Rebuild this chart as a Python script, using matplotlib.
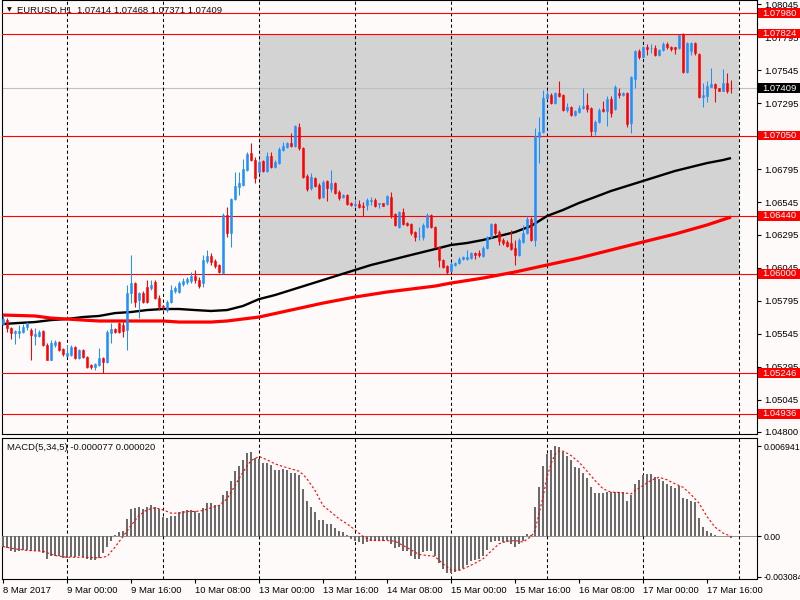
import matplotlib
matplotlib.use("Agg")
import matplotlib.pyplot as plt
from matplotlib.patches import Rectangle
import numpy as np

plt.rcParams['font.family'] = ['Liberation Sans', 'DejaVu Sans']

# ---------------- data (EURUSD H1, bar 0 = 8 Mar 2017 08:00) ----------------
opens = [1.05619, 1.05649, 1.05589, 1.05551, 1.05551, 1.05558, 1.05596, 1.05573, 1.05528, 1.05528,
         1.05566, 1.05459, 1.05346, 1.05459, 1.05482, 1.05429, 1.05376, 1.05383, 1.05444, 1.05361,
         1.05421, 1.05368, 1.05308, 1.05292, 1.05308, 1.05361, 1.05330, 1.05551, 1.05581, 1.05627,
         1.05611, 1.05573, 1.05854, 1.05930, 1.05801, 1.05854, 1.05900, 1.05892, 1.05938, 1.05816,
         1.05756, 1.05725, 1.05786, 1.05869, 1.05862, 1.05923, 1.05938, 1.05945, 1.05983, 1.05953,
         1.05930, 1.06097, 1.06135, 1.06097, 1.06067, 1.06006, 1.06447, 1.06310, 1.06568, 1.06659,
         1.06674, 1.06788, 1.06917, 1.06864, 1.06773, 1.06857, 1.06781, 1.06895, 1.06811, 1.06841,
         1.06940, 1.06963, 1.06993, 1.06970, 1.07115, 1.06955, 1.06743, 1.06652, 1.06727, 1.06674,
         1.06583, 1.06705, 1.06644, 1.06690, 1.06621, 1.06583, 1.06598, 1.06538, 1.06522, 1.06530,
         1.06515, 1.06522, 1.06556, 1.06560, 1.06530, 1.06538, 1.06530, 1.06583, 1.06454, 1.06355,
         1.06469, 1.06386, 1.06378, 1.06317, 1.06285, 1.06280, 1.06355, 1.06447, 1.06355, 1.06204,
         1.06105, 1.06059, 1.06021, 1.06067, 1.06082, 1.06112, 1.06112, 1.06120, 1.06158, 1.06158,
         1.06135, 1.06196, 1.06280, 1.06378, 1.06317, 1.06257, 1.06242, 1.06234, 1.06196, 1.06143,
         1.06242, 1.06310, 1.06416, 1.06257, 1.07039, 1.07077, 1.07335, 1.07358, 1.07297, 1.07373,
         1.07358, 1.07244, 1.07267, 1.07206, 1.07229, 1.07259, 1.07282, 1.07259, 1.07084, 1.07153,
         1.07251, 1.07236, 1.07327, 1.07251, 1.07373, 1.07358, 1.07373, 1.07145, 1.07479, 1.07692,
         1.07646, 1.07722, 1.07711, 1.07715, 1.07661, 1.07699, 1.07745, 1.07722, 1.07722, 1.07715,
         1.07821, 1.07532, 1.07692, 1.07753, 1.07669, 1.07343, 1.07350, 1.07418, 1.07441, 1.07411,
         1.07388, 1.07449, 1.07414]
highs = [1.05687, 1.05664, 1.05596, 1.05573, 1.05611, 1.05619, 1.05634, 1.05589, 1.05589, 1.05573,
         1.05573, 1.05475, 1.05497, 1.05497, 1.05490, 1.05437, 1.05459, 1.05459, 1.05452, 1.05429,
         1.05429, 1.05376, 1.05315, 1.05323, 1.05437, 1.05368, 1.05573, 1.05627, 1.05589, 1.05634,
         1.05634, 1.05915, 1.06143, 1.05938, 1.05862, 1.05869, 1.05953, 1.05953, 1.05953, 1.05839,
         1.05763, 1.05801, 1.05915, 1.05907, 1.05945, 1.05968, 1.05976, 1.06014, 1.06029, 1.05976,
         1.06143, 1.06181, 1.06158, 1.06112, 1.06074, 1.06462, 1.06507, 1.06576, 1.06773, 1.06773,
         1.06872, 1.06925, 1.06993, 1.06887, 1.06864, 1.06864, 1.06925, 1.06925, 1.06864, 1.06963,
         1.07001, 1.07001, 1.07069, 1.07130, 1.07145, 1.06963, 1.06758, 1.06765, 1.06735, 1.06690,
         1.06712, 1.06712, 1.06788, 1.06697, 1.06636, 1.06606, 1.06606, 1.06545, 1.06560, 1.06560,
         1.06545, 1.06576, 1.06583, 1.06576, 1.06538, 1.06538, 1.06598, 1.06621, 1.06462, 1.06477,
         1.06500, 1.06393, 1.06386, 1.06325, 1.06355, 1.06386, 1.06462, 1.06454, 1.06363, 1.06211,
         1.06112, 1.06067, 1.06090, 1.06090, 1.06128, 1.06135, 1.06181, 1.06166, 1.06166, 1.06181,
         1.06211, 1.06287, 1.06386, 1.06386, 1.06333, 1.06272, 1.06257, 1.06333, 1.06257, 1.06272,
         1.06371, 1.06439, 1.06431, 1.07107, 1.07191, 1.07396, 1.07396, 1.07373, 1.07381, 1.07464,
         1.07365, 1.07297, 1.07274, 1.07244, 1.07282, 1.07411, 1.07373, 1.07267, 1.07168, 1.07259,
         1.07312, 1.07350, 1.07350, 1.07433, 1.07411, 1.07381, 1.07381, 1.07502, 1.07699, 1.07707,
         1.07730, 1.07745, 1.07745, 1.07737, 1.07707, 1.07760, 1.07760, 1.07730, 1.07722, 1.07813,
         1.07828, 1.07760, 1.07760, 1.07760, 1.07677, 1.07449, 1.07464, 1.07563, 1.07449, 1.07411,
         1.07555, 1.07525, 1.07468]
lows = [1.05611, 1.05558, 1.05505, 1.05467, 1.05513, 1.05551, 1.05573, 1.05346, 1.05459, 1.05520,
        1.05452, 1.05346, 1.05346, 1.05444, 1.05414, 1.05376, 1.05368, 1.05376, 1.05353, 1.05353,
        1.05361, 1.05285, 1.05277, 1.05270, 1.05300, 1.05247, 1.05323, 1.05475, 1.05551, 1.05551,
        1.05520, 1.05421, 1.05778, 1.05748, 1.05664, 1.05778, 1.05778, 1.05877, 1.05808, 1.05725,
        1.05725, 1.05710, 1.05778, 1.05854, 1.05854, 1.05907, 1.05923, 1.05930, 1.05930, 1.05892,
        1.05900, 1.06082, 1.06067, 1.06044, 1.06006, 1.05999, 1.06280, 1.06204, 1.06560, 1.06598,
        1.06667, 1.06781, 1.06857, 1.06690, 1.06765, 1.06773, 1.06773, 1.06803, 1.06803, 1.06834,
        1.06933, 1.06955, 1.06963, 1.06963, 1.06940, 1.06727, 1.06629, 1.06636, 1.06659, 1.06568,
        1.06576, 1.06553, 1.06621, 1.06606, 1.06560, 1.06576, 1.06522, 1.06515, 1.06507, 1.06500,
        1.06439, 1.06485, 1.06522, 1.06507, 1.06500, 1.06515, 1.06522, 1.06424, 1.06363, 1.06348,
        1.06371, 1.06363, 1.06295, 1.06249, 1.06257, 1.06257, 1.06348, 1.06348, 1.06196, 1.06052,
        1.06044, 1.05999, 1.06014, 1.06059, 1.06074, 1.06105, 1.06105, 1.06112, 1.06112, 1.06128,
        1.06128, 1.06188, 1.06272, 1.06295, 1.06219, 1.06219, 1.06204, 1.06181, 1.06067, 1.06135,
        1.06234, 1.06302, 1.06249, 1.06211, 1.06841, 1.07069, 1.07327, 1.07289, 1.07289, 1.07343,
        1.07236, 1.07229, 1.07198, 1.07198, 1.07221, 1.07251, 1.07229, 1.07046, 1.07054, 1.07145,
        1.07229, 1.07122, 1.07191, 1.07244, 1.07335, 1.07350, 1.07115, 1.07069, 1.07411, 1.07631,
        1.07639, 1.07661, 1.07677, 1.07654, 1.07654, 1.07692, 1.07707, 1.07692, 1.07669, 1.07707,
        1.07525, 1.07525, 1.07661, 1.07661, 1.07335, 1.07267, 1.07305, 1.07418, 1.07305, 1.07388,
        1.07388, 1.07373, 1.07371]
closes = [1.05657, 1.05589, 1.05551, 1.05566, 1.05566, 1.05596, 1.05627, 1.05535, 1.05543, 1.05558,
          1.05459, 1.05346, 1.05475, 1.05482, 1.05421, 1.05391, 1.05399, 1.05444, 1.05361, 1.05421,
          1.05368, 1.05292, 1.05292, 1.05315, 1.05361, 1.05330, 1.05558, 1.05581, 1.05558, 1.05558,
          1.05566, 1.05854, 1.05930, 1.05786, 1.05854, 1.05786, 1.05786, 1.05915, 1.05816, 1.05748,
          1.05748, 1.05786, 1.05877, 1.05892, 1.05930, 1.05945, 1.05961, 1.05983, 1.05953, 1.05907,
          1.06105, 1.06135, 1.06090, 1.06059, 1.06014, 1.06447, 1.06310, 1.06568, 1.06667, 1.06690,
          1.06796, 1.06910, 1.06864, 1.06727, 1.06849, 1.06781, 1.06895, 1.06811, 1.06849, 1.06948,
          1.06970, 1.06993, 1.06970, 1.07122, 1.06955, 1.06735, 1.06644, 1.06735, 1.06667, 1.06576,
          1.06697, 1.06652, 1.06690, 1.06614, 1.06576, 1.06598, 1.06530, 1.06522, 1.06530, 1.06507,
          1.06507, 1.06560, 1.06560, 1.06515, 1.06538, 1.06515, 1.06591, 1.06447, 1.06371, 1.06469,
          1.06378, 1.06371, 1.06310, 1.06280, 1.06291, 1.06371, 1.06447, 1.06355, 1.06204, 1.06105,
          1.06052, 1.06014, 1.06074, 1.06082, 1.06112, 1.06128, 1.06128, 1.06158, 1.06143, 1.06143,
          1.06196, 1.06280, 1.06378, 1.06310, 1.06249, 1.06234, 1.06211, 1.06188, 1.06143, 1.06257,
          1.06310, 1.06416, 1.06257, 1.07046, 1.07077, 1.07335, 1.07365, 1.07297, 1.07373, 1.07350,
          1.07244, 1.07267, 1.07206, 1.07236, 1.07259, 1.07274, 1.07251, 1.07084, 1.07153, 1.07244,
          1.07236, 1.07327, 1.07221, 1.07418, 1.07358, 1.07373, 1.07138, 1.07494, 1.07692, 1.07646,
          1.07722, 1.07707, 1.07715, 1.07661, 1.07699, 1.07745, 1.07722, 1.07707, 1.07707, 1.07813,
          1.07532, 1.07753, 1.07753, 1.07677, 1.07343, 1.07358, 1.07426, 1.07441, 1.07411, 1.07388,
          1.07449, 1.07388, 1.07409]

# moving averages sampled at bar indices
ma_black_idx = [0, 4, 8, 12, 16, 20, 24, 28, 32, 36, 40, 44, 48, 52, 56, 60, 64, 68, 72, 76, 80, 84,
                88, 92, 96, 100, 104, 108, 112, 116, 120, 124, 128, 132, 136, 140, 144, 148, 152,
                156, 160, 164, 168, 172, 176, 180, 182]
ma_black = [1.05619, 1.05627, 1.05634, 1.05649, 1.05657, 1.05672, 1.05680, 1.05702, 1.05710, 1.05725,
            1.05733, 1.05733, 1.05725, 1.05718, 1.05725, 1.05756, 1.05808, 1.05839, 1.05877, 1.05915,
            1.05953, 1.05991, 1.06029, 1.06067, 1.06097, 1.06128, 1.06158, 1.06188, 1.06219, 1.06234,
            1.06257, 1.06287, 1.06317, 1.06363, 1.06439, 1.06485, 1.06538, 1.06583, 1.06629, 1.06667,
            1.06705, 1.06743, 1.06781, 1.06811, 1.06841, 1.06864, 1.06879]
ma_red_idx = [0, 8, 12, 16, 20, 24, 40, 44, 52, 56, 60, 64, 72, 80, 88, 96, 100, 108, 112, 120, 128,
              136, 144, 152, 160, 168, 176, 182]
ma_red = [1.05687, 1.05680, 1.05664, 1.05657, 1.05649, 1.05642, 1.05642, 1.05634, 1.05634, 1.05642,
          1.05657, 1.05672, 1.05725, 1.05778, 1.05824, 1.05862, 1.05877, 1.05907, 1.05930, 1.05968,
          1.06014, 1.06067, 1.06120, 1.06181, 1.06242, 1.06302, 1.06371, 1.06431]

levels = [1.07980, 1.07824, 1.07050, 1.06440, 1.06000, 1.05246, 1.04936]
last_price = 1.07409
zone_bars = (64, 184)
zone_prices = (1.06000, 1.07824)

macd = [-0.00082, -0.00087, -0.00113, -0.00120, -0.00113, -0.00107, -0.00107, -0.00113, -0.00113, -0.00113,
        -0.00128, -0.00171, -0.00153, -0.00146, -0.00151, -0.00164, -0.00164, -0.00159, -0.00159, -0.00153,
        -0.00159, -0.00171, -0.00179, -0.00179, -0.00164, -0.00128, -0.00082, -0.00031, 0.00008, 0.00033,
        0.00046, 0.00136, 0.00212, 0.00220, 0.00225, 0.00212, 0.00230, 0.00245, 0.00230, 0.00212,
        0.00153, 0.00143, 0.00161, 0.00161, 0.00187, 0.00194, 0.00207, 0.00205, 0.00194, 0.00179,
        0.00220, 0.00256, 0.00256, 0.00245, 0.00238, 0.00322, 0.00348, 0.00422, 0.00499, 0.00537,
        0.00583, 0.00639, 0.00647, 0.00603, 0.00596, 0.00563, 0.00563, 0.00552, 0.00511, 0.00511,
        0.00519, 0.00511, 0.00486, 0.00486, 0.00468, 0.00366, 0.00276, 0.00230, 0.00187, 0.00128,
        0.00123, 0.00097, 0.00097, 0.00066, 0.00046, 0.00033, 0.00008, -0.00018, -0.00031, -0.00043,
        -0.00056, -0.00043, -0.00036, -0.00031, -0.00036, -0.00031, -0.00026, -0.00056, -0.00087, -0.00082,
        -0.00113, -0.00113, -0.00146, -0.00171, -0.00171, -0.00120, -0.00113, -0.00113, -0.00146, -0.00205,
        -0.00248, -0.00281, -0.00281, -0.00274, -0.00256, -0.00240, -0.00222, -0.00189, -0.00184, -0.00171,
        -0.00146, -0.00102, -0.00043, -0.00031, -0.00031, -0.00043, -0.00043, -0.00056, -0.00077, -0.00061,
        -0.00031, 0.00020, 0.00015, 0.00230, 0.00378, 0.00537, 0.00629, 0.00660, 0.00694, 0.00690,
        0.00647, 0.00621, 0.00588, 0.00532, 0.00527, 0.00486, 0.00450, 0.00378, 0.00332, 0.00332,
        0.00332, 0.00340, 0.00340, 0.00340, 0.00340, 0.00340, 0.00271, 0.00315, 0.00399, 0.00430,
        0.00468, 0.00476, 0.00476, 0.00455, 0.00442, 0.00424, 0.00404, 0.00391, 0.00373, 0.00384,
        0.00297, 0.00289, 0.00276, 0.00263, 0.00143, 0.00072, 0.00046, 0.00028, 0.00015, 0.00005,
        0.00005, 0.00005, -0.000077]

signal_idx = [0, 3, 6, 10, 13, 16, 20, 24, 26, 28, 30, 32, 34, 36, 38, 40, 42, 44, 46, 48,
              50, 52, 54, 56, 58, 60, 62, 64, 66, 68, 70, 72, 74, 75, 76, 78, 80, 82, 84, 86,
              88, 90, 92, 94, 96, 98, 100, 102, 104, 106, 108, 110, 112, 114, 116, 118, 120, 122, 124, 126,
              128, 130, 132, 133, 134, 135, 136, 137, 138, 139, 140, 141, 142, 144, 146, 148, 150, 152, 154, 156,
              157, 158, 160, 162, 164, 166, 168, 170, 172, 174, 176, 178, 180, 182]
signal = [-0.00077, -0.00095, -0.00107, -0.00113, -0.00146, -0.00159, -0.00159, -0.00164, -0.00153, -0.00082,
          0.00000, 0.00084, 0.00161, 0.00205, 0.00220, 0.00205, 0.00179, 0.00179, 0.00192, 0.00192,
          0.00199, 0.00220, 0.00238, 0.00289, 0.00391, 0.00494, 0.00583, 0.00614, 0.00588, 0.00557,
          0.00537, 0.00519, 0.00501, 0.00476, 0.00442, 0.00353, 0.00238, 0.00187, 0.00136, 0.00097,
          0.00051, 0.00000, -0.00031, -0.00031, -0.00031, -0.00036, -0.00069, -0.00102, -0.00138, -0.00146,
          -0.00153, -0.00210, -0.00256, -0.00261, -0.00235, -0.00205, -0.00171, -0.00113, -0.00056, -0.00036,
          -0.00031, -0.00043, 0.00000, 0.00046, 0.00174, 0.00302, 0.00455, 0.00557, 0.00629, 0.00655,
          0.00655, 0.00639, 0.00621, 0.00570, 0.00501, 0.00430, 0.00366, 0.00340, 0.00338, 0.00332,
          0.00327, 0.00353, 0.00391, 0.00430, 0.00455, 0.00435, 0.00404, 0.00378, 0.00322, 0.00256,
          0.00153, 0.00072, 0.00026, 0.00002]

day_separators = [16, 40, 64, 88, 112, 136, 160, 184]
xtick_bars = [0, 16, 32, 48, 64, 80, 96, 112, 128, 144, 160, 176]
xtick_labels = ["8 Mar 2017", "9 Mar 00:00", "9 Mar 16:00", "10 Mar 08:00", "13 Mar 00:00",
                "13 Mar 16:00", "14 Mar 08:00", "15 Mar 00:00", "15 Mar 16:00", "16 Mar 08:00",
                "17 Mar 00:00", "17 Mar 16:00"]
price_ticks = [1.08045, 1.07795, 1.07545, 1.07295, 1.07045, 1.06795, 1.06545, 1.06295,
               1.06045, 1.05795, 1.05545, 1.05295, 1.05045, 1.04800]
hidden_price_ticks = [1.07045]   # fully covered by the 1.07050 level box in the original
macd_ticks = [0.006941, 0.0, -0.003084]
macd_tick_labels = ["0.006941", "0.00", "-0.003084"]

# ---------------- figure ----------------
BG = '#FFFAFA'
BULL = '#1E90FF'
BEAR = '#FF0000'
FS = 6.8
W, H = 800, 600
fig = plt.figure(figsize=(8, 6), dpi=100, facecolor=BG)


def frame(l, t, r, b):
    return [l / W, 1 - b / H, (r - l) / W, (b - t) / H]


ax = fig.add_axes(frame(2, 0, 757, 434))
ax2 = fig.add_axes(frame(2, 438, 757, 579))
XLIM = (-0.25, 188.5)
YLIM = (1.04784, 1.08079)
YLIM2 = (-0.00326, 0.007555)

for a in (ax, ax2):
    a.set_facecolor(BG)
    a.set_xlim(*XLIM)
    for s in a.spines.values():
        s.set_color('black')
        s.set_linewidth(0.8)
    for d in day_separators:
        a.axvline(d, color='black', lw=0.75, ls=(0, (3, 2.5)), zorder=2)

ax.set_ylim(*YLIM)
ax2.set_ylim(*YLIM2)

# gray zone
ax.add_patch(Rectangle((zone_bars[0], zone_prices[0]), zone_bars[1] - zone_bars[0],
                       zone_prices[1] - zone_prices[0], facecolor='#D3D3D3',
                       edgecolor='none', zorder=0.5))

# last price line and level lines
ax.axhline(last_price, color='#C0C0C0', lw=0.8, zorder=1)
for lv in levels:
    ax.axhline(lv, color='red', lw=0.8, zorder=3)

# moving averages
ax.plot(ma_black_idx, ma_black, color='black', lw=1.7, zorder=3.5, solid_capstyle='butt')
ax.plot(ma_red_idx, ma_red, color='red', lw=2.3, zorder=3.6, solid_capstyle='butt')

# candles
o = np.array(opens); h = np.array(highs); l = np.array(lows); c = np.array(closes)
idx = np.arange(len(o))
cols = np.where(c >= o, BULL, BEAR)
ax.vlines(idx, l, h, colors=cols, lw=0.75, zorder=4)
ax.bar(idx, np.abs(c - o), bottom=np.minimum(o, c), width=0.62, color=cols,
       edgecolor=cols, linewidth=0.4, zorder=5)

# axes ticks (main)
ax.tick_params(axis='x', bottom=False, labelbottom=False)
ax.yaxis.tick_right()
ax.set_yticks(price_ticks)
ax.set_yticklabels(["" if t in hidden_price_ticks else f"{t:.5f}" for t in price_ticks])
ax.tick_params(axis='y', length=3, width=0.8, pad=2.5, labelsize=FS, colors='black')

# price boxes on right axis
ytr = ax.get_yaxis_transform()
half = 4.8 * (YLIM[1] - YLIM[0]) / 434.0
box_specs = [(lv, 'red') for lv in levels] + [(last_price, 'black')]
for lv, col in box_specs:
    ax.add_patch(Rectangle((1.0015, lv - half), 0.06, 2 * half, transform=ytr,
                           facecolor=col, edgecolor='none', clip_on=False, zorder=10))
    ax.text(1.0075, lv, f"{lv:.5f}", transform=ytr, color='white', fontsize=FS,
            va='center', ha='left', zorder=11, clip_on=False)

# header
ax.text(0.0062, 1 - 10 / 434, "\u25BC", transform=ax.transAxes, fontsize=4.5,
        va='center', ha='left', color='#101010', zorder=12, family='DejaVu Sans')
ax.text(0.0195, 1 - 10 / 434, "EURUSD,H1  1.07414 1.07468 1.07371 1.07409",
        transform=ax.transAxes, fontsize=FS, va='center', ha='left', color='#101010', zorder=12)

# MACD panel
ax2.axhline(0, color='#696969', lw=0.5, zorder=1)
ax2.bar(idx, macd, width=0.72, color='#6B6B6B', zorder=3)
ax2.plot(signal_idx, signal, color='red', lw=0.8, ls=(0, (2, 2)), zorder=4)
ax2.yaxis.tick_right()
ax2.set_yticks(macd_ticks)
ax2.set_yticklabels(macd_tick_labels)
ax2.tick_params(axis='y', length=3, width=0.8, pad=1.5, labelsize=6.3, colors='black')
ax2.set_xticks(xtick_bars)
ax2.set_xticklabels(xtick_labels)
for t in ax2.get_xticklabels():
    t.set_ha('left')
ax2.tick_params(axis='x', length=3, width=0.8, pad=2, labelsize=FS, colors='black')
ax2.text(0.0066, 1 - 9 / 141, "MACD(5,34,5) -0.000077 0.000020", transform=ax2.transAxes,
         fontsize=FS, va='center', ha='left', color='#101010', zorder=12)

fig.savefig("out.png", dpi=100, facecolor=BG)
